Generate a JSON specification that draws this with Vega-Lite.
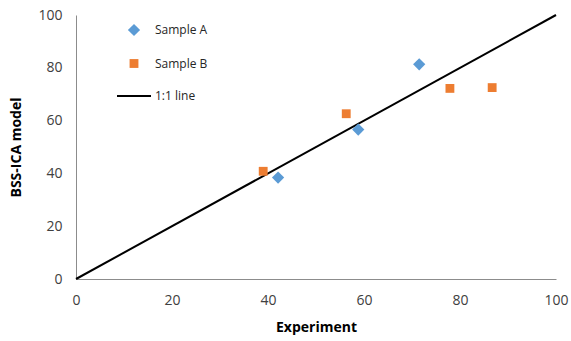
{
  "$schema": "https://vega.github.io/schema/vega-lite/v6.json",
  "width": 480,
  "height": 264,
  "autosize": "none",
  "padding": {"left": 76, "top": 15, "right": 15, "bottom": 62},
  "config": {"view": {"stroke": null}, "font": "Open Sans"},
  "datasets": {
    "points": [
      {"series": "Sample A", "experiment": 42.1, "model": 38.4},
      {"series": "Sample A", "experiment": 58.8, "model": 56.6},
      {"series": "Sample A", "experiment": 71.5, "model": 81.3},
      {"series": "Sample B", "experiment": 39.0, "model": 40.8},
      {"series": "Sample B", "experiment": 56.3, "model": 62.6},
      {"series": "Sample B", "experiment": 77.9, "model": 72.2},
      {"series": "Sample B", "experiment": 86.7, "model": 72.5}
    ],
    "line": [
      {"experiment": 0, "model": 0},
      {"experiment": 100, "model": 100}
    ]
  },
  "layer": [
    {
      "data": {"name": "line"},
      "mark": {"type": "line", "color": "black", "strokeWidth": 2},
      "encoding": {
        "x": {"field": "experiment", "type": "quantitative", "scale": {"domain": [0, 100], "nice": false},
          "axis": {"title": "Experiment", "grid": false, "ticks": false, "labelFlush": false, "values": [0, 20, 40, 60, 80, 100], "domainColor": "#8c8c8c", "labelFontSize": 14, "labelColor": "#404040", "labelPadding": 14, "titleFontSize": 14, "titleFontWeight": "bold", "titleColor": "#000000", "titlePadding": 13}},
        "y": {"field": "model", "type": "quantitative", "scale": {"domain": [0, 100], "nice": false},
          "axis": {"title": "BSS-ICA model", "grid": false, "ticks": false, "labelFlush": false, "values": [0, 20, 40, 60, 80, 100], "domainColor": "#8c8c8c", "labelFontSize": 14, "labelColor": "#404040", "labelPadding": 14, "titleFontSize": 14, "titleFontWeight": "bold", "titleColor": "#000000", "titlePadding": 14}}
      }
    },
    {
      "data": {"name": "points"},
      "mark": {"type": "point", "filled": true, "opacity": 1, "size": 1156},
      "encoding": {
        "x": {"field": "experiment", "type": "quantitative"},
        "y": {"field": "model", "type": "quantitative"},
        "color": {"field": "series", "type": "nominal",
          "scale": {"domain": ["Sample A", "Sample B", "1:1 line"], "range": ["#5B9BD5", "#ED7D31", "#000000"]},
          "legend": {"title": null, "orient": "none", "legendX": 41, "legendY": 9, "padding": 0, "rowPadding": 20.5, "labelOffset": 4, "labelFontSize": 12, "labelColor": "#262626", "symbolOpacity": 1, "symbolSize": 1156,
            "encode": {
              "symbols": {
                "update": {
                "stroke": {"scale": "color", "field": "value"},
                "strokeWidth": {"signal": "datum.value === '1:1 line' ? 2 : 0"},
                "shape": {"signal": "datum.value === 'Sample A' ? 'M-0.21,0L0,-0.21L0.21,0L0,0.21Z' : (datum.value === 'Sample B' ? 'M-0.19,-0.19H0.19V0.19H-0.19Z' : 'stroke')"},
                "x": {"value": 17}
              }},
              "labels": {"update": {"x": {"value": 38}}}
            }}},
        "shape": {"field": "series", "type": "nominal",
          "scale": {"domain": ["Sample A", "Sample B", "1:1 line"], "range": ["M-0.36,0L0,-0.36L0.36,0L0,0.36Z", "M-0.26,-0.26H0.26V0.26H-0.26Z", "stroke"]}}
      }
    }
  ]
}
